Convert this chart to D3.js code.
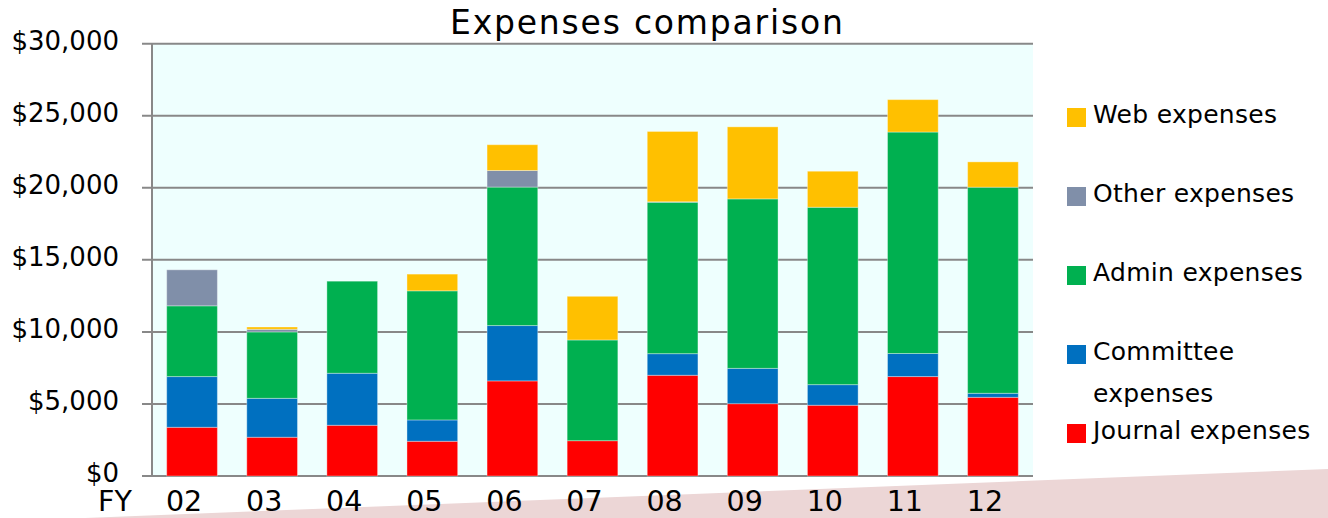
<!DOCTYPE html>
<html>
<head>
<meta charset="utf-8">
<script src="https://cdn.jsdelivr.net/npm/d3@7"></script>
<style>
  html, body { margin: 0; padding: 0; background: #ffffff; }
  svg { display: block; }
  text { font-family: "DejaVu Sans", sans-serif; fill: #000; }
</style>
</head>
<body>
<svg id="chart" width="1328" height="518"></svg>
<script>
// ---- data ----
const years = ["02", "03", "04", "05", "06", "07", "08", "09", "10", "11", "12"];
const journal   = [3380, 2690, 3520, 2410, 6600, 2450, 6990, 5020, 4910, 6900, 5460];
const committee = [3520, 2700, 3610, 1480, 3840, 0, 1500, 2450, 1430, 1600, 280];
const admin     = [4910, 4610, 6390, 8960, 9610, 6990, 10510, 11760, 12310, 15370, 14300];
const other     = [2500, 180, 0, 0, 1150, 0, 30, 0, 0, 0, 0];
const web       = [0, 160, 0, 1160, 1790, 3030, 4880, 5000, 2500, 2250, 1760];
const seriesNames = ["Journal expenses", "Committee expenses", "Admin expenses", "Other expenses", "Web expenses"];
const yTicks = [0, 5000, 10000, 15000, 20000, 25000, 30000];

const seriesValues = [journal, committee, admin, other, web];
const colors = ["#ff0000", "#0070c0", "#00b050", "#808fa9", "#ffc000"];

const rows = years.map((yr, i) => {
  const r = { year: yr };
  seriesNames.forEach((n, k) => r[n] = seriesValues[k][i]);
  return r;
});

const svg = d3.select("#chart");
const pLeft = 152, pRight = 1033, pTop = 43.7, pBottom = 476;

const x = d3.scaleBand().domain(years).range([pLeft, pRight]).paddingInner(0.367).paddingOuter(0.1835);
const y = d3.scaleLinear().domain([0, 30000]).range([pBottom, pTop]);

// pink wedge at bottom
svg.append("polygon")
  .attr("points", "85,518 1328,469 1328,518")
  .attr("fill", "#ecd6d6");

// plot background
svg.append("rect")
  .attr("x", pLeft).attr("y", pTop)
  .attr("width", pRight - pLeft).attr("height", pBottom - pTop)
  .attr("fill", "#eefffe");

// grid lines
svg.append("g").selectAll("line").data(yTicks).join("line")
  .attr("x1", 142).attr("x2", pRight)
  .attr("y1", d => y(d)).attr("y2", d => y(d))
  .attr("stroke", "#888888").attr("stroke-width", 2);

// left axis line
svg.append("line")
  .attr("x1", pLeft).attr("x2", pLeft)
  .attr("y1", pTop).attr("y2", pBottom)
  .attr("stroke", "#888888").attr("stroke-width", 2);

// y tick labels
svg.append("g").selectAll("text").data(yTicks).join("text")
  .attr("x", 119).attr("y", d => y(d) + 5.8)
  .attr("text-anchor", "end")
  .attr("font-size", 26)
  .text(d => "$" + d3.format(",")(d));

// stacked bars
const stack = d3.stack().keys(seriesNames);
const stacked = stack(rows);
svg.append("g").selectAll("g").data(stacked).join("g")
  .attr("fill", (d, i) => colors[i])
  .selectAll("rect").data(d => d.filter(p => p[1] - p[0] > 0)).join("rect")
  .attr("x", d => x(d.data.year))
  .attr("width", x.bandwidth())
  .attr("y", d => y(d[1]))
  .attr("height", d => y(d[0]) - y(d[1]))
  .attr("stroke", "rgba(255,255,255,0.35)")
  .attr("stroke-width", 1);

// x labels
svg.append("g").selectAll("text").data(years).join("text")
  .attr("x", d => x(d) + x.bandwidth() / 2 - 8)
  .attr("y", 511)
  .attr("text-anchor", "middle")
  .attr("font-size", 28.5)
  .text(d => d);

svg.append("text")
  .attr("x", 98).attr("y", 511)
  .attr("font-size", 28.5)
  .text("FY");

// title
svg.append("text")
  .attr("x", 450).attr("y", 34)
  .attr("font-size", 33)
  .attr("letter-spacing", 1.8)
  .text("Expenses comparison");

// legend (top to bottom reversed)
const legendOrder = seriesNames.map((n, i) => ({ name: n, color: colors[i] })).reverse();
const lg = svg.append("g");
legendOrder.forEach((d, i) => {
  const cy = 117.5 + i * 79;
  lg.append("rect")
    .attr("x", 1067).attr("y", cy - 9.5)
    .attr("width", 19).attr("height", 19)
    .attr("fill", d.color);
  const t = lg.append("text")
    .attr("x", 1093).attr("y", cy + 5)
    .attr("font-size", 25)
    .attr("letter-spacing", 0.3);
  if (d.name === "Committee expenses") {
    t.append("tspan").attr("x", 1093).text("Committee");
    t.append("tspan").attr("x", 1093).attr("dy", 42).text("expenses");
  } else {
    t.text(d.name);
  }
});
</script>
</body>
</html>
